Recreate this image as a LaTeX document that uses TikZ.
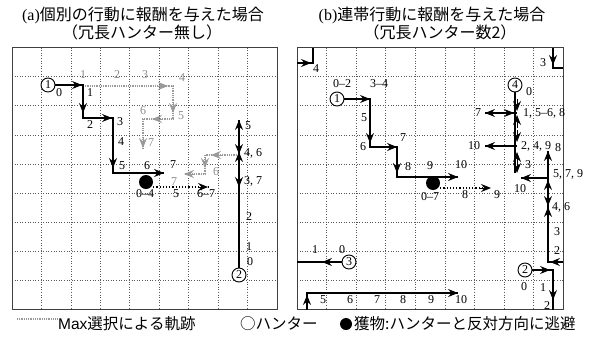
\documentclass[tikz,border=0pt]{standalone}
\usepackage{fontspec}
\setmainfont{Liberation Serif}
\newfontfamily\jpf{Noto Sans CJK JP}
\newfontfamily\sanf{Liberation Sans}
\newcommand\labf{\fontsize{12}{12}\selectfont}
\usetikzlibrary{arrows.meta}
\begin{document}
\begin{tikzpicture}[x=1pt,y=-1pt,
 gin/.style={draw=black!65, line width=0.6pt, dotted},
 gout/.style={draw=black!75, line width=1pt},
 hp/.style={draw=black, line width=1.1pt},
 mp/.style={draw=black!40, line width=1.8pt, dash pattern=on 1pt off 0.8pt},
 tb/.style={-{Stealth[length=10pt,width=8pt,inset=3.5pt]}, draw=black, line width=1pt},
 tg/.style={-{Stealth[length=10pt,width=8pt,inset=3.5pt]}, draw=black!40, fill=black!40, line width=1pt},
 hunter/.style={circle, draw, line width=0.9pt, fill=white, inner sep=0pt, minimum size=14pt, font=\labf},
 prey/.style={circle, fill=black, inner sep=0pt, minimum size=14pt},
 lb/.style={font=\labf, inner sep=0pt},
 lg/.style={font=\labf, inner sep=0pt, text=black!45},
 pp/.style={draw=black, line width=1.2pt, dotted},
 ttl/.style={font=\fontsize{16}{16}\selectfont, inner sep=0pt, anchor=base, text height=11pt, text depth=1pt},
 leg/.style={font=\fontsize{15.5}{15.5}\selectfont, inner sep=0pt, anchor=west}]
\useasboundingbox (0,0) rectangle (594,338);
\fill[white] (0,0) rectangle (594,338);

% titles
\node[ttl] (ta1) at (143,20) {(a)\jpf 個別の行動に報酬を与えた場合};
\node[ttl] (ta2) at (142,38) {\jpf （冗長ハンター無し）};
\node[ttl] (tb1) at (432,20) {(b)\jpf 連帯行動に報酬を与えた場合};
\node[ttl] (tb2) at (440,38) {\jpf （冗長ハンター数2）};

% grids
\foreach \i in {1,...,8} {
 \draw[gin] ({12+\i*29.44},47.5) -- ({12+\i*29.44},309.5);
 \draw[gin] (12,{47.5+\i*29.11}) -- (277,{47.5+\i*29.11});
 \draw[gin] ({297+\i*29.56},47.5) -- ({297+\i*29.56},309.5);
 \draw[gin] (297,{47.5+\i*29.11}) -- (563,{47.5+\i*29.11});
}
\draw[gout] (12,47.5) rectangle (277,309.5);
\draw[gout] (297,47.5) rectangle (563,309.5);

% ================= panel (a) =================
% max-selection (gray) paths
\coordinate (g1a) at (83,86);
\coordinate (g1b) at (173,86);
\coordinate (g1c) at (173,119);
\coordinate (g1d) at (143,119);
\coordinate (g1e) at (143,149);
\draw[mp] (g1a) -- (g1b) -- (g1c) -- (g1d) -- (g1e);
\draw[tg] (158,86) -- (168,86);
\draw[tg] (173,102) -- (173,113);
\draw[tg] (163,119) -- (152,119);
\draw[tg] (143,137) -- (143,148);
\coordinate (g2a) at (239,155);
\coordinate (g2b) at (205,155);
\coordinate (g2c) at (205,174);
\coordinate (g2d) at (185,174);
\draw[mp] (g2a) -- (g2b) -- (g2c) -- (g2d);
\draw[tg] (222,155) -- (211,155);
\draw[tg] (205,158) -- (205,168);
\draw[tg] (195,174) -- (184,174);
\node[lg] at (83,75) {1};
\node[lg] at (117,75) {2};
\node[lg] at (145,75) {3};
\node[lg] at (182,78) {4};
\node[lg] at (181,116) {5};
\node[lg] at (143,111) {6};
\node[lg] at (151,143) {7};
\node[lg] at (216,172) {6};
\node[lg] at (174,182) {7};

% prey (a)
\node[prey] (pa) at (146,182) {};
\coordinate (pae) at (208,187);
\draw[pp] (pa.east |- pae) -- (pae);
\draw[tb] (198,187) -- (208,187);
\node[lb] at (145,194) {0–4};
\node[lb] at (176,194) {5};
\node[lb] at (206,194) {6–7};

% hunter 1 (a)
\node[hunter] (h1a) at (48,85) {1};
\coordinate (a1) at (83,85);
\coordinate (a2) at (83,118);
\coordinate (a3) at (113,118);
\coordinate (a4) at (113,173);
\coordinate (a5) at (164,173);
\draw[hp] (h1a) -- (a1) -- (a2) -- (a3) -- (a4) -- (a5);
\draw[tb] (70,85) -- (82,85);
\draw[tb] (83,100) -- (83,113);
\draw[tb] (100,118) -- (112,118);
\draw[tb] (113,155) -- (113,168);
\draw[tb] (152,173) -- (164,173);
\node[lb] at (59,93) {0};
\node[lb] at (90,93) {1};
\node[lb] at (90,125) {2};
\node[lb] at (120,122) {3};
\node[lb] at (121,142) {4};
\node[lb] at (122,166) {5};
\node[lb] at (147,166) {6};
\node[lb] at (173,165) {7};

% hunter 2 (a)
\node[hunter] (h2a) at (239,275) {2};
\coordinate (b1) at (239,120);
\draw[hp] (h2a) -- (b1);
\draw[tb] (239,134) -- (239,120);
\draw[tb] (239,141) -- (239,154);
\draw[tb] (239,166) -- (239,152);
\draw[tb] (239,174) -- (239,187);
\node[lb] at (250,262) {0};
\node[lb] at (249,247) {1};
\node[lb] at (249,217) {2};
\node[lb,anchor=west] at (244,181) {3, 7};
\node[lb,anchor=west] at (244,153) {4, 6};
\node[lb,anchor=west] at (245,126) {5};

% ================= panel (b) =================
% prey (b)
\node[prey] (pb) at (433,183) {};
\coordinate (pbe) at (491,188);
\draw[pp] (pb.east |- pbe) -- (pbe);
\draw[tb] (480,188) -- (491,188);
\node[lb] at (430,197) {0–7};
\node[lb] at (465,195) {8};
\node[lb] at (497,195) {9};

% hunter 1 (b)
\node[hunter] (h1b) at (337,99) {1};
\coordinate (c1) at (370,99);
\coordinate (c2) at (370,147);
\coordinate (c3) at (397,147);
\coordinate (c4) at (397,177);
\coordinate (c5) at (458,177);
\draw[hp] (h1b) -- (c1) -- (c2) -- (c3) -- (c4) -- (c5);
\draw[tb] (358,99) -- (370,99);
\draw[tb] (370,130) -- (370,143);
\draw[tb] (385,147) -- (397,147);
\draw[tb] (397,161) -- (397,173);
\draw[tb] (446,177) -- (458,177);
\node[lb] at (342,84) {0–2};
\node[lb] at (379,84) {3–4};
\node[lb] at (364,118) {5};
\node[lb] at (363,147) {6};
\node[lb] at (403,138) {7};
\node[lb] at (408,167) {8};
\node[lb] at (430,166) {9};
\node[lb] at (461,165) {10};

% hunter 4 (b)
\node[hunter] (h4b) at (515,85) {4};
\coordinate (d1) at (517,173);
\coordinate (d2) at (485,113);
\coordinate (d3) at (485,146);
\draw[hp] (h4b) -- (h4b |- d1);
\draw[hp] (517,113) -- (d2);
\draw[hp] (517,146) -- (d3);
\draw[tb] (517,99) -- (517,111);
\draw[tb] (517,128) -- (517,115);
\draw[tb] (517,130) -- (517,142);
\draw[tb] (517,164) -- (517,152);
\draw[tb] (517,162) -- (517,173);
\draw[tb] (497,113) -- (485,113);
\draw[tb] (502,113) -- (514,113);
\draw[tb] (497,146) -- (485,146);
\node[lb] at (529,92) {0};
\node[lb,anchor=west] at (523,113) {1, 5–6, 8};
\node[lb,anchor=west] at (521,146) {2, 4, 9};
\node[lb] at (528,165) {3};
\node[lb] at (478,113) {7};
\node[lb] at (474,146) {10};

% hunter 3 (b)
\node[hunter] (h3b) at (349,262) {3};
\coordinate (e1) at (297,262);
\coordinate (e2) at (563,262);
\coordinate (e3) at (548,262);
\coordinate (e4) at (548,151);
\coordinate (e5) at (548,178);
\coordinate (e6) at (521,178);
\draw[hp] (h3b) -- (e1);
\draw[hp] (e2) -- (e3) -- (e4);
\draw[hp] (e5) -- (e6);
\draw[tb] (334,262) -- (322,262);
\draw[tb] (561,262) -- (550,262);
\draw[tb] (548,163) -- (548,151);
\draw[tb] (548,192) -- (548,180);
\draw[tb] (548,194) -- (548,206);
\draw[tb] (548,219) -- (548,207);
\draw[tb] (533,178) -- (521,178);
\node[lb] at (342,250) {0};
\node[lb] at (315,250) {1};
\node[lb] at (557,251) {2};
\node[lb] at (557,232) {3};
\node[lb,anchor=west] at (552,207) {4, 6};
\node[lb,anchor=west] at (553,174) {5, 7, 9};
\node[lb] at (558,148) {8};
\node[lb] at (520,189) {10};

% hunter 2 (b)
\node[hunter] (h2b) at (525,270) {2};
\coordinate (f1) at (553,270);
\coordinate (f2) at (553,309.5);
\draw[hp] (h2b) -- (f1) -- (f2);
\draw[tb] (538,270) -- (550,270);
\draw[tb] (553,288) -- (553,300);
\node[lb] at (524,287) {0};
\node[lb] at (543,288) {1};
\node[lb] at (547,306) {2};
% wrap: top right
\coordinate (f3) at (553,47.5);
\coordinate (f4) at (553,68);
\coordinate (f5) at (563,68);
\draw[hp] (f3) -- (f4) -- (f5);
\draw[tb] (553,54) -- (553,65);
\node[lb] at (543,63) {3};
% wrap: top left
\coordinate (f6) at (297,63);
\coordinate (f7) at (313,63);
\coordinate (f8) at (313,47.5);
\draw[hp] (f6) -- (f7) -- (f8);
\draw[tb] (299,63) -- (311,63);
\node[lb] at (316,69) {4};
% wrap: bottom
\coordinate (f9) at (307,309.5);
\coordinate (f10) at (307,293);
\coordinate (f11) at (458,293);
\draw[hp] (f9) -- (f10) -- (f11);
\draw[tb] (307,307) -- (307,295);
\draw[tb] (446,293) -- (458,293);
\node[lb] at (323,300) {5};
\node[lb] at (350,300) {6};
\node[lb] at (377,300) {7};
\node[lb] at (403,300) {8};
\node[lb] at (431,300) {9};
\node[lb] at (461,300) {10};

% ================= legend =================
\coordinate (m1) at (17,319);
\coordinate (m2) at (57,319);
\draw[mp, line width=1.4pt] (m1) -- (m2);
\node[leg] (l1) at (58,324) {\sanf Max\jpf 選択による軌跡};
\node[leg] (l2) at (240,324) {\jpf ○ハンター};
\node[prey, minimum size=12pt] (l3) at (346,324) {};
\node[leg] (l4) at (354,324) {\jpf 獲物:ハンターと反対方向に逃避};
\end{tikzpicture}
\end{document}
